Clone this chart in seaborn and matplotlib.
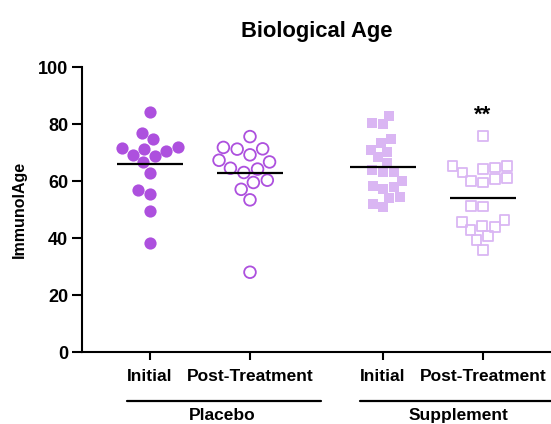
import numpy as np
import pandas as pd
import matplotlib
matplotlib.use('Agg')
import matplotlib.pyplot as plt
import matplotlib.transforms as mtransforms
import seaborn as sns

# ImmunolAge values
placebo_initial = [84.4, 76.7, 71.4, 71.5, 72.0, 74.6, 70.6, 68.8, 69.1, 66.7,
                   63.0, 56.9, 55.3, 49.4, 38.3]
placebo_post = [75.6, 71.2, 71.3, 71.8, 69.2, 66.7, 67.3, 63.0, 64.5, 64.2,
                59.5, 60.3, 57.1, 53.4, 28.0]
supplement_initial = [70.9, 66.5, 63.2, 57.2, 51.0, 80.5, 74.7, 70.2, 63.2, 58.3,
                      54.3, 82.9, 79.9, 73.2, 68.3, 63.9, 60.1, 51.9, 57.8, 53.9]
supplement_post = [75.9, 63.0, 59.5, 64.8, 60.6, 64.2, 65.3, 60.1, 65.3, 61.0,
                   51.1, 51.3, 46.4, 42.8, 44.1, 45.7, 43.8, 40.6, 39.3, 35.9]

tick_labels = ['Initial', 'Post-Treatment', 'Initial', 'Post-Treatment']
group_labels = ['Placebo', 'Supplement']

# x positions with a gap between the two groups
positions = [0, 1, 2.33, 3.33]
series = [placebo_initial, placebo_post, supplement_initial, supplement_post]
colors = ['#AD50DE', '#AD50DE', '#DAB6F3', '#DAB6F3']
markers = ['o', 'o', 's', 's']
filled = [True, False, True, False]
sizes = [8.8, 8.4, 7.4, 7.0]

sns.set_style('ticks')
plt.rcParams['font.family'] = ['Liberation Sans', 'DejaVu Sans']
plt.rcParams['font.weight'] = 'bold'
for key in ['text.color', 'axes.labelcolor', 'xtick.color', 'ytick.color', 'axes.edgecolor']:
    plt.rcParams[key] = 'black'

fig = plt.figure(figsize=(5.51, 4.24), dpi=100)
ax = fig.add_axes([0.1488, 0.1698, 0.8512, 0.672])

for pos, vals, col, mk, fl, sz in zip(positions, series, colors, markers, filled, sizes):
    d = pd.DataFrame({'x': [pos] * len(vals), 'y': vals})
    n_before = len(ax.collections)
    sns.swarmplot(data=d, x='x', y='y', native_scale=True, color=col,
                  marker=mk, size=sz, linewidth=0, ax=ax)
    coll = ax.collections[n_before]
    if not fl:
        coll.set_facecolor('none')
        coll.set_edgecolor(col)
        coll.set_linewidth(1.3)
    else:
        coll.set_edgecolor(col)
    # mean line
    ax.hlines(np.mean(vals), pos - 0.33, pos + 0.33, color='black', lw=1.6, zorder=5)

ax.set_xlim(-0.68, 4.01)
ax.set_ylim(0, 100)
ax.set_yticks([0, 20, 40, 60, 80, 100])
ax.set_xticks(positions)
ax.set_xticklabels(tick_labels, fontsize=12.5, fontweight='bold')
ax.tick_params(axis='y', labelsize=13, width=1.5, length=7, pad=3)
ax.tick_params(axis='x', width=1.5, length=6, pad=6)
for t in ax.get_yticklabels():
    t.set_fontweight('bold')
ax.set_xlabel('')
ax.set_ylabel('ImmunolAge', fontsize=11.5, fontweight='bold', labelpad=8)
for side in ['left', 'bottom']:
    ax.spines[side].set_linewidth(1.5)
sns.despine(ax=ax)

ax.set_title('Biological Age', fontsize=15.8, fontweight='bold', pad=22, x=0.5)

ax.text(positions[3], 83, '**', ha='center', va='center', fontsize=16, fontweight='bold')

# group brackets below the tick labels
trans = mtransforms.blended_transform_factory(ax.transData, ax.transAxes)
ax.plot([-0.23, 1.71], [-0.172, -0.172], color='black', lw=1.6,
        transform=trans, clip_on=False)
ax.plot([2.1, 4.05], [-0.172, -0.172], color='black', lw=1.6,
        transform=trans, clip_on=False)
ax.text(0.72, -0.222, group_labels[0], ha='center', va='center', fontsize=12.5,
        fontweight='bold', transform=trans)
ax.text(3.09, -0.222, group_labels[1], ha='center', va='center', fontsize=12.5,
        fontweight='bold', transform=trans)

fig.savefig('out.png', dpi=100)
